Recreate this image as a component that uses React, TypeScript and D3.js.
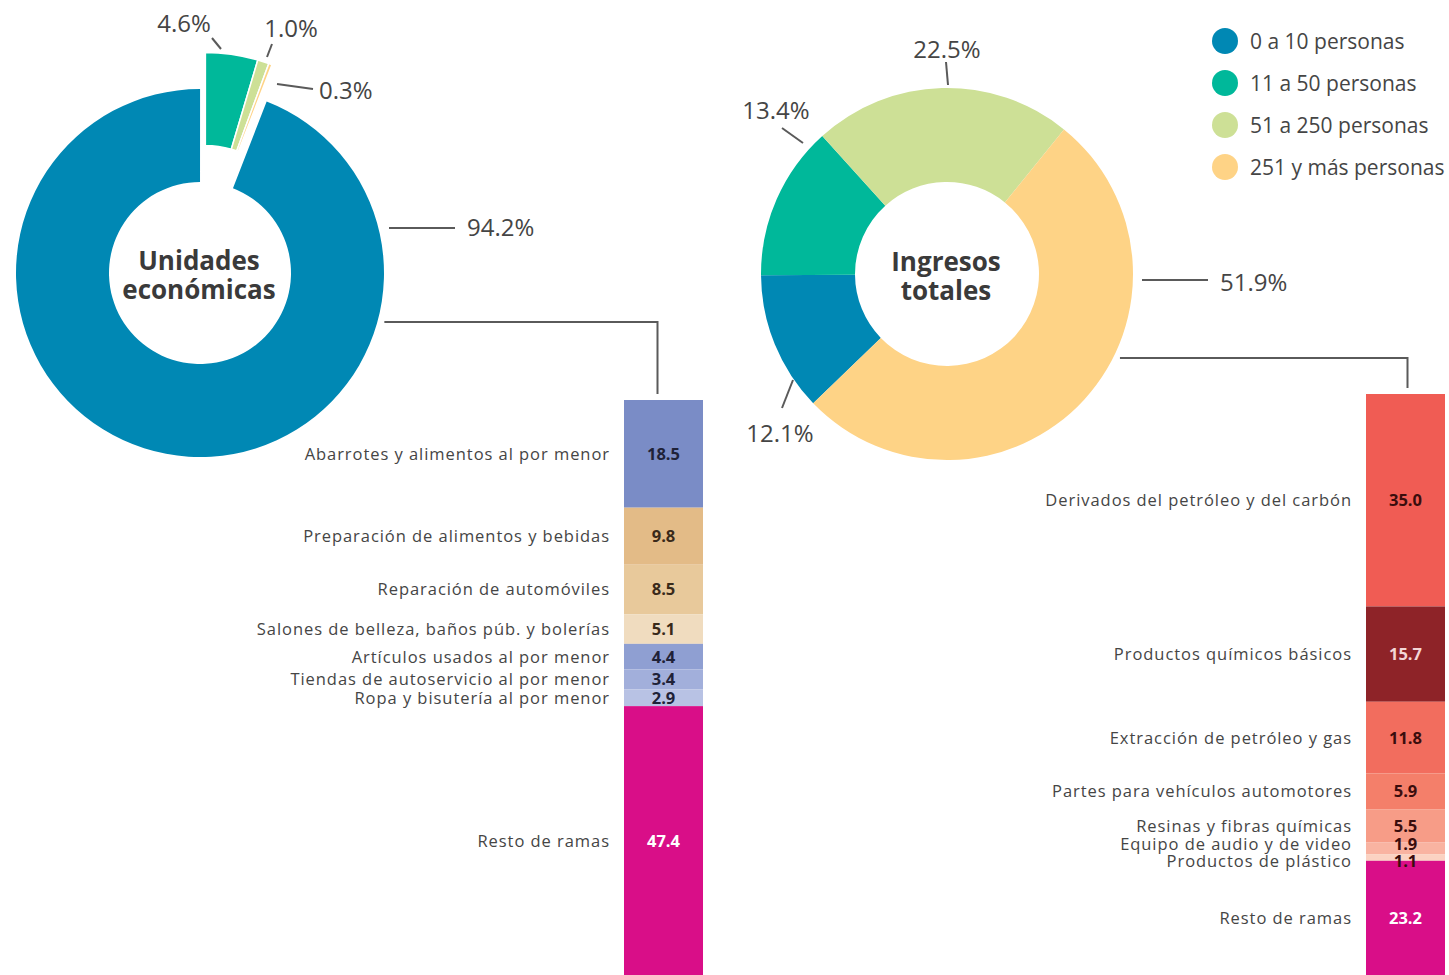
import { useEffect, useRef } from "react";
import * as d3 from "d3";

// tamaño de la unidad económica
const sizeLabels = ["0 a 10 personas", "11 a 50 personas", "51 a 250 personas", "251 y más personas"];
const sizeColors = ["#0088b4", "#00b89a", "#cde096", "#fed386"];
const unidadesPct = [94.2, 4.6, 1.0, 0.3];
const ingresosPct = [12.1, 13.4, 22.5, 51.9];

// ramas, unidades 0 a 10 personas
const ramasUnidades = [
  "Abarrotes y alimentos al por menor",
  "Preparación de alimentos y bebidas",
  "Reparación de automóviles",
  "Salones de belleza, baños púb. y bolerías",
  "Artículos usados al por menor",
  "Tiendas de autoservicio al por menor",
  "Ropa y bisutería al por menor",
  "Resto de ramas",
];
const ramasUnidadesVal = [18.5, 9.8, 8.5, 5.1, 4.4, 3.4, 2.9, 47.4];
const ramasUnidadesColor = ["#7a8cc6", "#e3bb87", "#e8c99b", "#f0dcbf", "#8f9fd2", "#a2afdb", "#b8c2e4", "#d90e88"];
const ramasUnidadesText = ["#1f2238", "#3a2a1a", "#3a2a1a", "#3a2a1a", "#1f2238", "#1f2238", "#1f2238", "#ffffff"];

// ramas, ingresos 251 y más personas
const ramasIngresos = [
  "Derivados del petróleo y del carbón",
  "Productos químicos básicos",
  "Extracción de petróleo y gas",
  "Partes para vehículos automotores",
  "Resinas y fibras químicas",
  "Equipo de audio y de video",
  "Productos de plástico",
  "Resto de ramas",
];
const ramasIngresosVal = [35.0, 15.7, 11.8, 5.9, 5.5, 1.9, 1.1, 23.2];
const ramasIngresosColor = ["#f05c54", "#8e2328", "#f26d5e", "#f47f6a", "#f79c87", "#f9b3a1", "#fbd2c2", "#d90e88"];
const ramasIngresosText = ["#3a0d0d", "#f3d6d6", "#3a0d0d", "#3a0d0d", "#3a0d0d", "#3a0d0d", "#3a0d0d", "#ffffff"];

const W = 1449;
const H = 975;
const FONT = "'Open Sans', 'Noto Sans', sans-serif";
const GREY = "#454545";

type Note = { line: [number, number][]; text: [number, number]; anchor: string };

// leader lines, relative to the donut center
const notesUnidades: Note[] = [
  { line: [[189, -45], [255, -45]], text: [267, -37], anchor: "start" },
  { line: [[21, -224], [12, -235]], text: [-16, -241], anchor: "middle" },
  { line: [[67, -216], [72, -229]], text: [91, -236], anchor: "middle" },
  { line: [[77, -189], [113, -184]], text: [119, -174], anchor: "start" },
];
const notesIngresos: Note[] = [
  { line: [[-154, 106], [-165, 134]], text: [-167, 168], anchor: "middle" },
  { line: [[-165, -146], [-144, -131]], text: [-171, -155], anchor: "middle" },
  { line: [[-1, -212], [1, -189]], text: [0, -216], anchor: "middle" },
  { line: [[195, 6], [261, 6]], text: [273, 17], anchor: "start" },
];

function donut(svg: any, opts: any) {
  const { cx, cy, rOut, rIn, values, start, title, notes, explode } = opts;
  const g = svg.append("g").attr("transform", `translate(${cx},${cy})`);
  const pie = d3.pie<number>().sort(null).value((d) => d)
    .startAngle(start).endAngle(start + Math.PI * 2);
  const arcs = pie(values);
  const arc = d3.arc<any>().innerRadius(rIn).outerRadius(rOut);

  // explode direction: first exploded slice
  let ex = 0, ey = 0;
  if (explode.length) {
    const a0 = arcs[explode[0]];
    const mid = (a0.startAngle + a0.endAngle) / 2;
    ex = Math.sin(mid) * 37;
    ey = -Math.cos(mid) * 37;
  }

  g.selectAll("path.slice")
    .data(arcs)
    .join("path")
    .attr("class", "slice")
    .attr("d", arc)
    .attr("fill", (d: any, i: number) => sizeColors[i])
    .attr("stroke", "#fff")
    .attr("stroke-width", (d: any, i: number) => (explode.includes(i) ? 1.5 : 0))
    .attr("transform", (d: any, i: number) => (explode.includes(i) ? `translate(${ex},${ey})` : null));

  const t = g.append("text")
    .attr("text-anchor", "middle")
    .attr("font-family", FONT)
    .attr("font-weight", 700)
    .attr("font-size", 26)
    .attr("fill", "#3a3a3a");
  title.forEach((s: string, i: number) => {
    t.append("tspan").attr("x", -1).attr("y", -3 + i * 29).text(s);
  });

  notes.forEach((n: Note, i: number) => {
    g.append("path")
      .attr("d", d3.line()(n.line))
      .attr("stroke", "#5a5a5a")
      .attr("stroke-width", 2)
      .attr("fill", "none");
    g.append("text")
      .attr("x", n.text[0])
      .attr("y", n.text[1])
      .attr("text-anchor", n.anchor)
      .attr("font-family", FONT)
      .attr("font-size", 24)
      .attr("fill", GREY)
      .text(d3.format(".1f")(values[i]) + "%");
  });
  return { cx, cy, rOut };
}

function stackBar(svg: any, opts: any) {
  const { x, top, total, pxPerUnit, names, vals, colors, textColors, labelX } = opts;
  const bw = 79;
  const y = d3.scaleLinear().domain([0, total]).range([top, top + total * pxPerUnit]);
  const ends = Array.from(d3.cumsum(vals));
  const segs = vals.map((v: number, i: number) => {
    const y0 = y(i ? ends[i - 1] : 0);
    const y1 = y(ends[i]);
    return { v, i, y0, y1, ly: (y0 + Math.min(y1, H)) / 2 };
  });
  // spread labels of thin segments so they don't sit on each other
  const minGap = 17;
  for (let k = 0; k < 3; k++) {
    for (let i = 0; i < segs.length - 1; i++) {
      const gap = segs[i + 1].ly - segs[i].ly;
      if (gap < minGap) {
        const push = (minGap - gap) / 2;
        segs[i].ly -= push;
        segs[i + 1].ly += push;
      }
    }
  }
  const g = svg.append("g");
  g.selectAll("rect")
    .data(segs)
    .join("rect")
    .attr("x", x)
    .attr("y", (d: any) => d.y0)
    .attr("width", bw)
    .attr("height", (d: any) => d.y1 - d.y0)
    .attr("fill", (d: any) => colors[d.i]);
  g.selectAll("text.num")
    .data(segs)
    .join("text")
    .attr("class", "num")
    .attr("x", x + bw / 2)
    .attr("y", (d: any) => d.ly)
    .attr("dy", "0.36em")
    .attr("text-anchor", "middle")
    .attr("font-family", FONT)
    .attr("font-weight", 700)
    .attr("font-size", 16.5)
    .attr("fill", (d: any) => textColors[d.i])
    .text((d: any) => d3.format(".1f")(d.v));
  g.selectAll("text.lab")
    .data(segs)
    .join("text")
    .attr("class", "lab")
    .attr("x", labelX)
    .attr("y", (d: any) => d.ly)
    .attr("dy", "0.36em")
    .attr("text-anchor", "end")
    .attr("font-family", FONT)
    .attr("font-size", 16.5)
    .attr("letter-spacing", 0.95)
    .attr("fill", GREY)
    .text((d: any) => names[d.i]);
  return { x, bw, top };
}

function connector(svg: any, d: any, b: any, dy: number, shift: number) {
  const sy = d.cy + dy;
  const sx = d.cx + Math.sqrt(d.rOut * d.rOut - dy * dy) + 7;
  const cx = b.x + b.bw / 2 + shift;
  svg.append("path")
    .attr("d", d3.line()([[sx, sy], [cx, sy], [cx, b.top - 6]]))
    .attr("stroke", "#5a5a5a")
    .attr("stroke-width", 2)
    .attr("fill", "none");
}

export default function App() {
  const ref = useRef<SVGSVGElement>(null);

  useEffect(() => {
    const svg = d3.select(ref.current);
    svg.selectAll("*").remove();

    const d1 = donut(svg, {
      cx: 200, cy: 273, rOut: 184, rIn: 91, values: unidadesPct,
      start: (d3.sum(unidadesPct.slice(1)) / 100) * Math.PI * 2,
      title: ["Unidades", "económicas"], notes: notesUnidades, explode: [1, 2, 3],
    });
    const d2 = donut(svg, {
      cx: 947, cy: 274, rOut: 186, rIn: 92, values: ingresosPct,
      start: (-134 * Math.PI) / 180,
      title: ["Ingresos", "totales"], notes: notesIngresos, explode: [],
    });

    const b1 = stackBar(svg, {
      x: 624, top: 400, total: 100, pxPerUnit: 5.82,
      names: ramasUnidades, vals: ramasUnidadesVal, colors: ramasUnidadesColor,
      textColors: ramasUnidadesText, labelX: 610,
    });
    const b2 = stackBar(svg, {
      x: 1366, top: 394, total: d3.sum(ramasIngresosVal), pxPerUnit: 6.07,
      names: ramasIngresos, vals: ramasIngresosVal, colors: ramasIngresosColor,
      textColors: ramasIngresosText, labelX: 1352,
    });

    connector(svg, d1, b1, 49, -6);
    connector(svg, d2, b2, 84, 2);

    // legend
    const leg = svg.append("g").selectAll("g")
      .data(sizeLabels)
      .join("g")
      .attr("transform", (d: string, i: number) => `translate(1225,${41 + i * 42})`);
    leg.append("circle").attr("r", 13).attr("fill", (d: string, i: number) => sizeColors[i]);
    leg.append("text")
      .attr("x", 25)
      .attr("dy", "0.36em")
      .attr("font-family", FONT)
      .attr("font-size", 21)
      .attr("fill", GREY)
      .text((d: string) => d);
  }, []);

  return (
    <svg ref={ref} width={W} height={H}
      style={{ position: "absolute", left: 0, top: 0, background: "#fff" }} />
  );
}
